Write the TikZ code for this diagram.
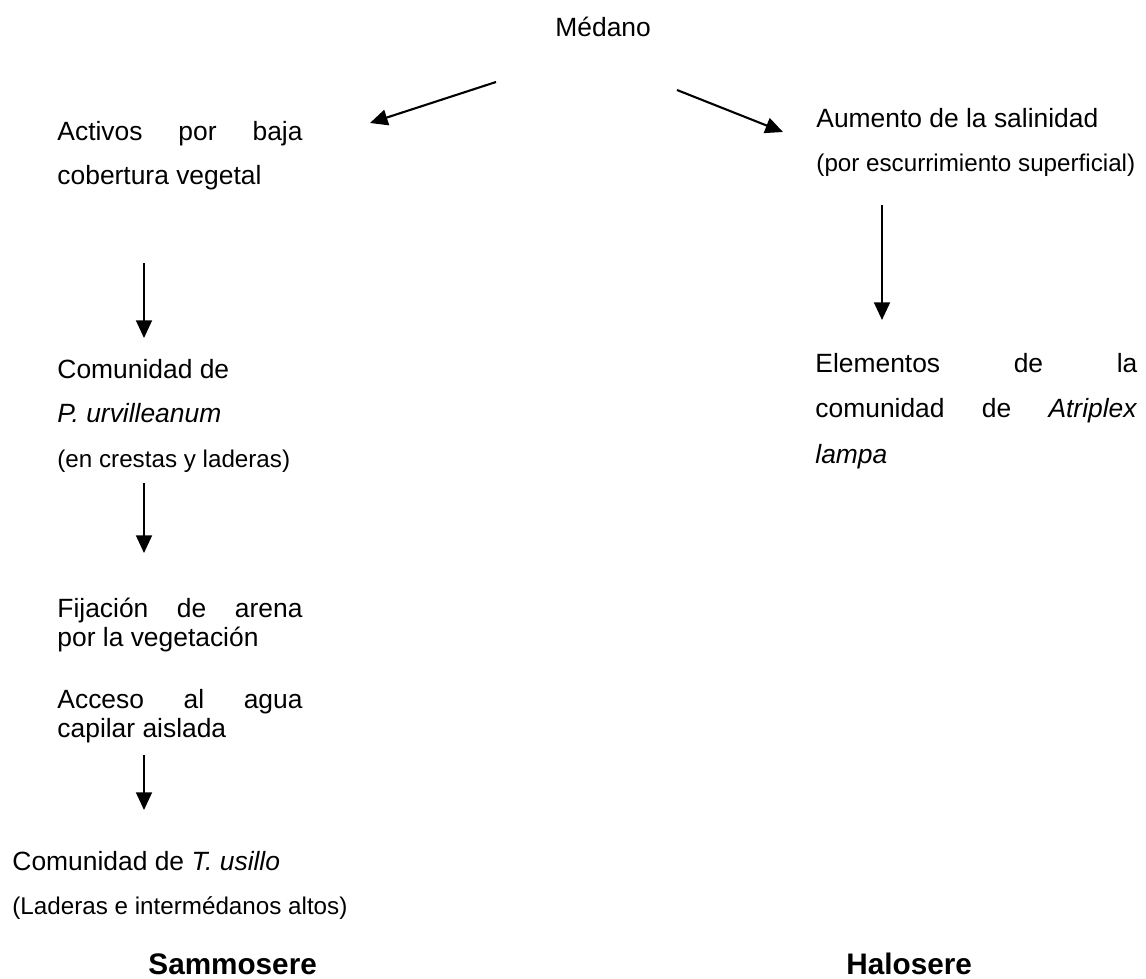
\documentclass[tikz,border=0pt]{standalone}
\usepackage{fontspec}
\setmainfont{Liberation Sans}
\usetikzlibrary{arrows.meta}

\newcommand{\chico}{\fontsize{11}{20.2}\selectfont}

\tikzset{
  texto/.style={anchor=base west, inner sep=0pt, font=\fontsize{12}{20.4}\selectfont},
  bloque/.style={texto, text width=#1, align=justify},
  lineas/.style={texto, text width=#1, align=flush left},
  simple/.style={bloque=111.4pt, font=\fontsize{12}{13.6}\selectfont},
  titulo/.style={anchor=base west, inner sep=0pt, font=\fontsize{13.5}{16}\selectfont\bfseries},
  flecha/.style={line width=0.95pt, -{Triangle[length=8pt,width=7.2pt]}}
}

\begin{document}
\begin{tikzpicture}[x=0.4545pt, y=-0.4545pt]

\useasboundingbox (0,0) rectangle (1146,978);

%%% --- Origen --- %%%
\node[texto] (medano) at (555,36) {Médano};

%%% --- Sammosere (columna izquierda) --- %%%
\node[bloque=111.4pt] (activos) at (57,140)
  {Activos\hfill por\hfill baja\\cobertura vegetal};
\node[lineas=150pt] (comP) at (57,378)
  {Comunidad de\\\textit{P. urvilleanum}\\{\chico (en crestas y laderas)}};
\node[simple] (fijacion) at (57,617)
  {Fijación\hfill de\hfill arena\\por la vegetación};
\node[simple] (acceso) at (57,708)
  {Acceso\hfill al\hfill agua\\capilar aislada};
\node[lineas=170pt] (comT) at (12,870)
  {Comunidad de \textit{T. usillo}\\{\chico (Laderas e intermédanos altos)}};
\node[titulo] (sammosere) at (148,974) {Sammosere};

%%% --- Halosere (columna derecha) --- %%%
\node[lineas=150pt] (aumento) at (816,127)
  {Aumento de la salinidad\\{\chico (por escurrimiento superficial)}};
\node[bloque=146.3pt, font=\fontsize{12}{20.9}\selectfont] (elementos) at (815,372)
  {Elementos\hfill de\hfill la\\comunidad\hfill de\hfill \textit{Atriplex}\\\textit{lampa}};
\node[titulo] (halosere) at (846,974) {Halosere};

%%% --- Flechas --- %%%
\coordinate (a1) at (496,82);  \coordinate (a2) at (370,123);
\coordinate (b1) at (677,90);  \coordinate (b2) at (783,132);
\coordinate (c1) at (144,263); \coordinate (c2) at (144,338);
\coordinate (d1) at (144,483); \coordinate (d2) at (144,553);
\coordinate (e1) at (144,755); \coordinate (e2) at (144,810);
\coordinate (f1) at (882,205); \coordinate (f2) at (882,320);

\foreach \ini/\fin in {a1/a2, b1/b2, c1/c2, d1/d2, e1/e2, f1/f2}
  \draw[flecha] (\ini) -- (\fin);

\end{tikzpicture}
\end{document}
